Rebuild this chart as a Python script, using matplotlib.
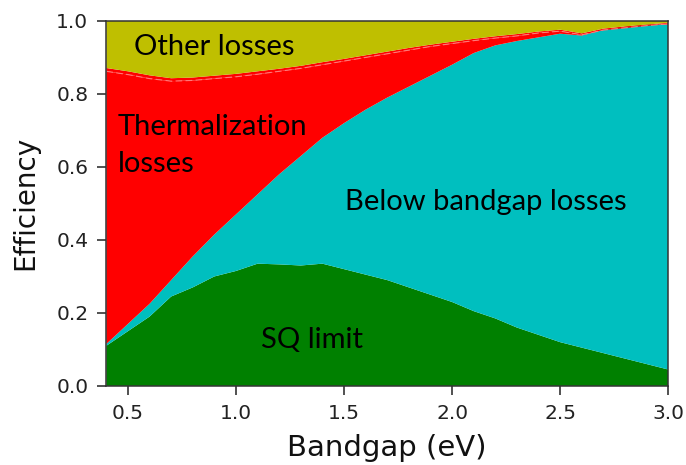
import numpy as np
import matplotlib
matplotlib.use("Agg")
import matplotlib.pyplot as plt

# Bandgap grid (eV)
bandgap = [0.4, 0.5, 0.6, 0.7, 0.8, 0.9, 1.0, 1.1, 1.2, 1.3, 1.4, 1.5, 1.6, 1.7,
           1.8, 1.9, 2.0, 2.1, 2.2, 2.3, 2.4, 2.5, 2.6, 2.7, 2.8, 2.9, 3.0]

# Shockley-Queisser efficiency limit
sq_limit = [0.110, 0.150, 0.190, 0.245, 0.270, 0.300, 0.315, 0.335, 0.333, 0.330,
            0.335, 0.320, 0.305, 0.290, 0.270, 0.250, 0.230, 0.205, 0.185, 0.160,
            0.140, 0.120, 0.105, 0.090, 0.075, 0.060, 0.045]

# Cumulative level reached by SQ + below-bandgap losses
below_gap_top = [0.115, 0.170, 0.225, 0.290, 0.355, 0.415, 0.470, 0.525, 0.580, 0.630,
                 0.680, 0.720, 0.757, 0.790, 0.820, 0.850, 0.880, 0.912, 0.933, 0.945,
                 0.955, 0.965, 0.960, 0.975, 0.984, 0.990, 0.990]

# Cumulative level reached after thermalization losses
thermal_top = [0.862, 0.853, 0.842, 0.835, 0.837, 0.842, 0.847, 0.854, 0.862, 0.870,
               0.880, 0.890, 0.900, 0.910, 0.920, 0.930, 0.938, 0.946, 0.953, 0.959,
               0.967, 0.972, 0.962, 0.975, 0.981, 0.987, 0.992]

# Thin emission-loss slice sitting on top of thermalization
emission = [0.009, 0.009, 0.009, 0.008, 0.008, 0.008, 0.008, 0.008, 0.007, 0.007,
            0.007, 0.006, 0.006, 0.006, 0.006, 0.005, 0.005, 0.005, 0.005, 0.005,
            0.004, 0.004, 0.004, 0.004, 0.004, 0.003, 0.003]

x = np.array(bandgap)
sq = np.array(sq_limit)
below = np.array(below_gap_top) - sq
therm = np.array(thermal_top) - np.array(below_gap_top)
emis = np.array(emission)
other = 1.0 - (sq + below + therm + emis)

fig = plt.figure(figsize=(6.86, 4.65), dpi=100)
ax = fig.add_axes([0.155, 0.170, 0.819, 0.785])

ax.stackplot(x, sq, below, therm, emis, other,
             colors=["g", "c", "r", "r", "y"], linewidth=0)
# faint seam between thermalization and emission slices
ax.plot(x, np.array(thermal_top), color="#ff7a7a", lw=0.8, dashes=(6, 3))

ax.set_xlim(0.4, 3.0)
ax.set_ylim(0.0, 1.0)
ax.set_xticks([0.5, 1.0, 1.5, 2.0, 2.5, 3.0])
ax.set_yticks([0.0, 0.2, 0.4, 0.6, 0.8, 1.0])
ax.tick_params(labelsize=14.5, length=6.5, width=1.1, pad=6.5, colors="#222222")
for s in ax.spines.values():
    s.set_linewidth(1.1)
    s.set_color("#333333")

ax.set_xlabel("Bandgap (eV)", fontsize=21, color="#111111", labelpad=8)
ax.set_ylabel("Efficiency", fontsize=20, color="#111111", labelpad=12)

lab = dict(family=["Lato", "DejaVu Sans"], fontsize=21, color="black", va="baseline")
ax.text(0.898, 0.907, "Other losses", ha="center", **lab)
ax.text(0.454, 0.688, "Thermalization", ha="left", **lab)
ax.text(0.454, 0.586, "losses", ha="left", **lab)
ax.text(2.155, 0.482, "Below bandgap losses", ha="center", **lab)
ax.text(1.35, 0.104, "SQ limit", ha="center", **lab)

fig.savefig("out.png", dpi=100)
